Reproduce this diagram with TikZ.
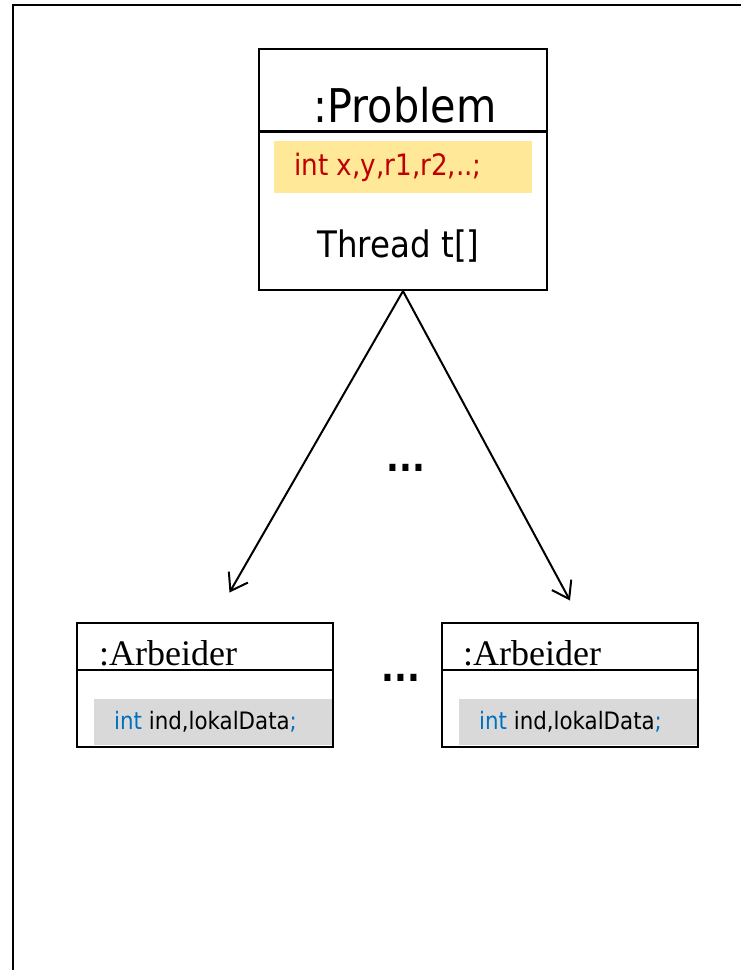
\documentclass[tikz,border=0pt]{standalone}
\usepackage{fontspec}
\usetikzlibrary{arrows.meta}
\newfontfamily\tah[FakeStretch=0.89]{DejaVu Sans}
\newfontfamily\tms{Liberation Serif}
\definecolor{hlyellow}{HTML}{FFE999}
\definecolor{hlgray}{HTML}{D9D9D9}
\definecolor{codered}{HTML}{C00000}
\definecolor{codeblue}{HTML}{0070C0}
\tikzset{
  umlbox/.style={draw=black, line width=2.2pt, fill=none, inner sep=0pt},
  divider/.style={draw=black, line width=2.2pt},
  conn/.style={draw=black, line width=2pt, -{Straight Barb[length=16pt,width=22pt,line width=2pt]}},
  txt/.style={inner sep=0pt, anchor=base west},
  txtc/.style={inner sep=0pt, anchor=base},
}
\begin{document}
\begin{tikzpicture}[x=1pt,y=-1pt]
\useasboundingbox (0,0) rectangle (741,970);
\clip (0,0) rectangle (741,970);
% outer frame
\draw[line width=2pt] (12.5,5) rectangle (790,1020);
% Problem box
\fill[hlyellow] (274,141) rectangle (532,193);
\node[umlbox, minimum width=288pt, minimum height=241pt] (prob) at (403,169.5) {};
\draw[divider] (259,131.5) -- (547,131.5);
\node[txtc] (probtitle) at (405,122) {\tah\fontsize{46.5}{50}\selectfont :Problem};
\node[txt] (probattr) at (294,175) {\tah\fontsize{29.5}{32}\selectfont\color{codered} int x,y,r1,r2,..;};
\node[txtc] (probthread) at (398.5,257) {\tah\fontsize{36.5}{40}\selectfont Thread t[]};
% Arbeider left
\fill[hlgray] (94,699) rectangle (332,745);
\node[umlbox, minimum width=256pt, minimum height=124pt] (arbL) at (205,685) {};
\draw[divider] (77,670) -- (333,670);
\node[txt] (arbLtitle) at (99,665) {\tms\fontsize{36}{40}\selectfont :Arbeider};
\node[txt] (arbLattr) at (114,729) {\tah\fontsize{24}{28}\selectfont{\color{codeblue}int} ind,lokalData{\color{codeblue};}};
% Arbeider right
\fill[hlgray] (459,699) rectangle (697,745);
\node[umlbox, minimum width=256pt, minimum height=124pt] (arbR) at (570,685) {};
\draw[divider] (442,670) -- (698,670);
\node[txt] (arbRtitle) at (463,665) {\tms\fontsize{36}{40}\selectfont :Arbeider};
\node[txt] (arbRattr) at (479,729) {\tah\fontsize{24}{28}\selectfont{\color{codeblue}int} ind,lokalData{\color{codeblue};}};
% dots
\node[txtc] (dotsA) at (406,471) {\tah\bfseries\fontsize{38}{44}\selectfont ...};
\node[txtc] (dotsB) at (401,681) {\tah\bfseries\fontsize{38}{44}\selectfont ...};
% connectors
\coordinate (tipL) at (229.5,592.5);
\coordinate (tipR) at (570,600.5);
\draw[conn] (prob.south) -- (tipL);
\draw[conn] (prob.south) -- (tipR);
\end{tikzpicture}
\end{document}
